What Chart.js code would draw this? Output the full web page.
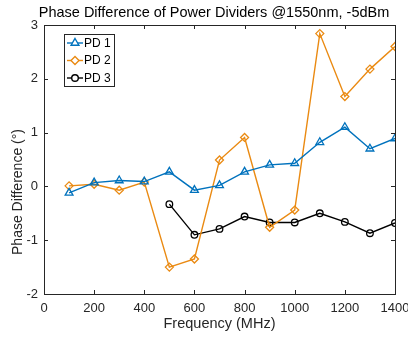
<!DOCTYPE html>
<html>
<head>
<meta charset="utf-8">
<script src="https://cdn.jsdelivr.net/npm/chart.js@4/dist/chart.umd.min.js"></script>
<style>
  html, body { margin: 0; padding: 0; background: #fff; }
  #wrap { width: 408px; height: 339px; position: relative; }
</style>
</head>
<body>
<div id="wrap"><canvas id="c"></canvas></div>
<script>
const frequencies = [100, 200, 300, 400, 500, 600, 700, 800, 900, 1000, 1100, 1200, 1300, 1400];
const pd1 = [-0.12, 0.07, 0.11, 0.09, 0.27, -0.07, 0.02, 0.27, 0.40, 0.43, 0.82, 1.10, 0.70, 0.89];
const pd2 = [0.01, 0.04, -0.07, 0.08, -1.50, -1.35, 0.49, 0.91, -0.76, -0.44, 2.84, 1.67, 2.18, 2.60];
const pd3 = [null, null, null, null, -0.33, -0.90, -0.79, -0.56, -0.67, -0.67, -0.50, -0.66, -0.87, -0.68];
const xTicks = [0, 200, 400, 600, 800, 1000, 1200, 1400];
const yTicks = [-2, -1, 0, 1, 2, 3];
const seriesNames = ['PD 1', 'PD 2', 'PD 3'];
const titleText = 'Phase Difference of Power Dividers @1550nm, -5dBm';
const xTitle = 'Frequency (MHz)';
const yTitle = 'Phase Difference (\u00B0)';

const FONT = '"Liberation Sans", Arial, sans-serif';

function toPts(arr) {
  return frequencies.map((f, i) => ({ x: f, y: arr[i] })).filter(p => p.y !== null);
}

const datasets = [
  { label: seriesNames[0], data: toPts(pd1), borderColor: '#0072BD', pointStyle: 'triangle', pointRadius: 4.5 },
  { label: seriesNames[1], data: toPts(pd2), borderColor: '#EA8A12', pointStyle: 'rectRot', pointRadius: 4 },
  { label: seriesNames[2], data: toPts(pd3), borderColor: '#000000', pointStyle: 'circle', pointRadius: 3.3 }
].map(d => Object.assign(d, {
  backgroundColor: 'rgba(0,0,0,0)',
  pointBackgroundColor: 'rgba(0,0,0,0)',
  pointBorderColor: d.borderColor,
  pointBorderWidth: 1.3,
  borderWidth: 1.4,
  tension: 0,
  fill: false
}));

const frame = {
  id: 'frame',
  afterDatasetsDraw(chart) {
    const ctx = chart.ctx, a = chart.chartArea;
    const xs = chart.scales.x, ys = chart.scales.y;
    ctx.save();
    ctx.strokeStyle = '#262626';
    ctx.lineWidth = 1;
    ctx.strokeRect(Math.round(a.left) + 0.5, Math.round(a.top) + 0.5, Math.round(a.right - a.left), Math.round(a.bottom - a.top));
    const tl = 4;
    ctx.beginPath();
    xTicks.forEach(v => {
      const px = Math.round(xs.getPixelForValue(v)) + 0.5;
      ctx.moveTo(px, a.bottom); ctx.lineTo(px, a.bottom - tl);
      ctx.moveTo(px, a.top); ctx.lineTo(px, a.top + tl);
    });
    yTicks.forEach(v => {
      const py = Math.round(ys.getPixelForValue(v)) + 0.5;
      ctx.moveTo(a.left, py); ctx.lineTo(a.left + tl, py);
      ctx.moveTo(a.right, py); ctx.lineTo(a.right - tl, py);
    });
    ctx.stroke();

    // title
    ctx.fillStyle = '#000';
    ctx.font = '14.5px ' + FONT;
    ctx.textAlign = 'center';
    ctx.textBaseline = 'middle';
    ctx.fillText(titleText, 214, 13);

    // y axis title
    ctx.save();
    ctx.translate(18, 192);
    ctx.rotate(-Math.PI / 2);
    ctx.font = '14px ' + FONT;
    ctx.fillStyle = '#262626';
    ctx.fillText(ys.options.title.text, 0, 0);
    ctx.restore();

    // legend
    const lx = 64, ly = 34, lw = 50, lh = 52;
    ctx.fillStyle = '#fff';
    ctx.fillRect(lx, ly, lw, lh);
    ctx.strokeStyle = '#262626';
    ctx.lineWidth = 1;
    ctx.strokeRect(lx + 0.5, ly + 0.5, lw, lh);
    chart.data.datasets.forEach((d, i) => {
      const cy = ly + 9 + i * 17.5;
      ctx.strokeStyle = d.borderColor;
      ctx.lineWidth = d.borderWidth;
      ctx.beginPath();
      ctx.moveTo(lx + 3, cy); ctx.lineTo(lx + 19, cy);
      ctx.stroke();
      ctx.fillStyle = '#fff';
      ctx.strokeStyle = d.borderColor;
      Chart.helpers.drawPoint(ctx, {
        pointStyle: d.pointStyle, radius: d.pointRadius, borderWidth: d.pointBorderWidth, rotation: 0
      }, lx + 11, cy);
      ctx.fillStyle = '#000';
      ctx.font = '12px ' + FONT;
      ctx.textAlign = 'left';
      ctx.textBaseline = 'middle';
      ctx.fillText(d.label, lx + 20, cy + 0.5);
    });
    ctx.restore();
  }
};

new Chart(document.getElementById('c'), {
  type: 'line',
  data: { datasets },
  options: {
    responsive: true,
    maintainAspectRatio: false,
    animation: false,
    layout: { padding: { top: 25, right: 13, left: 0, bottom: 0 } },
    plugins: { legend: { display: false }, title: { display: false }, tooltip: { enabled: false } },
    scales: {
      x: {
        type: 'linear', min: 0, max: 1400,
        afterBuildTicks: s => { s.ticks = xTicks.map(v => ({ value: v })); },
        afterFit: s => { s.height = 45; s.paddingLeft = 0; s.paddingRight = 0; },
        grid: { display: false, drawTicks: false },
        border: { display: false },
        ticks: { color: '#262626', font: { family: FONT, size: 13 }, padding: 7, maxRotation: 0, autoSkip: false,
                 callback: v => String(v) },
        title: { display: true, text: xTitle, color: '#262626', font: { family: FONT, size: 14.5 }, padding: { top: 6, bottom: 6 } }
      },
      y: {
        type: 'linear', min: -2, max: 3,
        afterBuildTicks: s => { s.ticks = yTicks.map(v => ({ value: v })); },
        afterFit: s => { s.width = 44; s.paddingTop = 0; s.paddingBottom = 0; },
        grid: { display: false, drawTicks: false },
        border: { display: false },
        ticks: { color: '#262626', font: { family: FONT, size: 13 }, padding: 6, autoSkip: false, callback: v => String(v) },
        title: { display: false, text: yTitle }
      }
    }
  },
  plugins: [frame]
});
</script>
</body>
</html>
